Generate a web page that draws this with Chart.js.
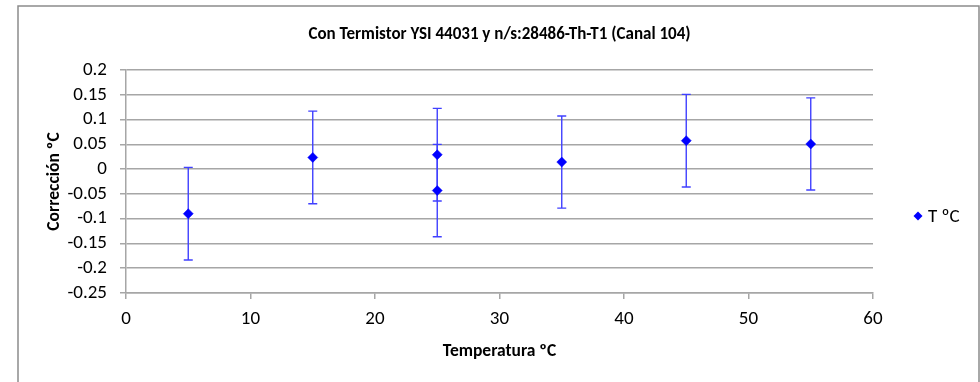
<!DOCTYPE html>
<html lang="es">
<head>
<meta charset="utf-8">
<title>Corrección Canal 104</title>
<script src="https://cdn.jsdelivr.net/npm/chart.js@4/dist/chart.umd.min.js"></script>
<style>
  html, body { margin: 0; padding: 0; background: #ffffff; }
  #chart_box { position: relative; width: 980px; height: 382px; }
</style>
</head>
<body>
<div id="chart_box"><canvas id="correctionChart"></canvas></div>
<script>
/*
----------------------
Datos de calibración: temperatura, corrección y su incertidumbre
----------------------

*/
var temperature_values = [5, 15, 25, 25, 35, 45, 55];
var correction_values = [-0.090, 0.0235, 0.029, -0.0433, 0.0142, 0.0574, 0.0507];
var uncertainty_values = [0.0935, 0.0935, 0.0935, 0.0933, 0.093, 0.0935, 0.093];

var x_tick_values = [0, 10, 20, 30, 40, 50, 60];
var y_tick_values = [-0.25, -0.2, -0.15, -0.1, -0.05, 0, 0.05, 0.1, 0.15, 0.2];

var series_label = "T ºC";
var chart_title = "Con Termistor YSI 44031 y n/s:28486-Th-T1 (Canal 104)";
var x_title = "Temperatura ºC";
var y_title = "Corrección ºC";

var font_family = "Carlito, 'Liberation Sans', Arial, sans-serif";
var grid_color = "#a6a6a6";
var point_color = "#0000ff";
var bar_color = "#4040ff";

var correction_chart = null;

/*
----------------------
Marco gris alrededor del gráfico
----------------------

*/
var frame_plugin = {
  id: "frame_plugin",
  beforeDraw: function (chart) {
    var ctx = chart.ctx;
    ctx.save();
    ctx.fillStyle = "#ffffff";
    ctx.fillRect(0, 0, chart.width, chart.height);
    ctx.strokeStyle = "#8c8c8c";
    ctx.lineWidth = 1.5;
    ctx.beginPath();
    ctx.moveTo(18, chart.height);
    ctx.lineTo(18, 6);
    ctx.lineTo(979, 6);
    ctx.lineTo(979, chart.height);
    ctx.stroke();
    ctx.restore();
  }
};

/*
----------------------
Barras de error verticales (± incertidumbre) dibujadas con las escalas
----------------------

*/
var error_bar_plugin = {
  id: "error_bar_plugin",
  beforeDatasetsDraw: function (chart) {
    var ctx = chart.ctx;
    var x_scale = chart.scales.x;
    var y_scale = chart.scales.y;
    var cap = 4.5;

    ctx.save();
    ctx.strokeStyle = bar_color;
    ctx.lineWidth = 1.4;

    for (var i = 0; i < temperature_values.length; i++) {
      var px = x_scale.getPixelForValue(temperature_values[i]);
      var top = y_scale.getPixelForValue(correction_values[i] + uncertainty_values[i]);
      var bottom = y_scale.getPixelForValue(correction_values[i] - uncertainty_values[i]);

      ctx.beginPath();
      ctx.moveTo(px, top);
      ctx.lineTo(px, bottom);
      ctx.moveTo(px - cap, top);
      ctx.lineTo(px + cap, top);
      ctx.moveTo(px - cap, bottom);
      ctx.lineTo(px + cap, bottom);
      ctx.stroke();
    }
    ctx.restore();
  }
};

/*
----------------------
Leyenda a la derecha del área de trazado
----------------------

*/
var side_legend_plugin = {
  id: "side_legend_plugin",
  afterDraw: function (chart) {
    var ctx = chart.ctx;
    var dataset = chart.data.datasets[0];
    var lx = 918;
    var ly = 216;
    var r = 4.5;

    ctx.save();
    ctx.fillStyle = point_color;
    ctx.beginPath();
    ctx.moveTo(lx - r, ly);
    ctx.lineTo(lx, ly - r);
    ctx.lineTo(lx + r, ly);
    ctx.lineTo(lx, ly + r);
    ctx.closePath();
    ctx.fill();

    ctx.fillStyle = "#000000";
    ctx.font = "19px " + font_family;
    ctx.textAlign = "left";
    ctx.textBaseline = "middle";
    ctx.fillText(dataset.label, 928, ly + 1);
    ctx.restore();
  }
};

function format_tick(value) {
  return String(Number(value.toFixed(2)));
}

function render_correction_chart() {
  var canvas = document.getElementById("correctionChart");
  if (!canvas) {
    return;
  }

  var points = temperature_values.map(function (t, i) {
    return { x: t, y: correction_values[i] };
  });

  correction_chart = new Chart(canvas.getContext("2d"), {
    type: "scatter",
    data: {
      datasets: [
        {
          label: series_label,
          data: points,
          pointStyle: "rectRot",
          pointRadius: 5,
          pointHoverRadius: 5,
          backgroundColor: point_color,
          borderColor: point_color,
          borderWidth: 0.5,
          showLine: false
        }
      ]
    },
    options: {
      responsive: true,
      maintainAspectRatio: false,
      animation: false,
      layout: {
        padding: { left: 0, top: 0, right: 107, bottom: 0 }
      },
      scales: {
        x: {
          type: "linear",
          min: 0,
          max: 60,
          afterBuildTicks: function (scale) {
            scale.ticks = x_tick_values.map(function (v) { return { value: v }; });
          },
          afterFit: function (scale) {
            scale.height = 89;
          },
          border: { display: true, color: grid_color, width: 1.5 },
          grid: {
            drawOnChartArea: false,
            drawTicks: true,
            tickLength: 6,
            color: grid_color,
            lineWidth: 1.5
          },
          ticks: {
            autoSkip: false,
            maxRotation: 0,
            padding: 9,
            color: "#000000",
            font: { family: font_family, size: 19 }
          },
          title: {
            display: true,
            text: x_title,
            color: "#000000",
            font: { family: font_family, size: 17.5, weight: "bold" },
            padding: { top: 4, bottom: 19.5 }
          }
        },
        y: {
          type: "linear",
          min: -0.25,
          max: 0.2,
          afterBuildTicks: function (scale) {
            scale.ticks = y_tick_values.map(function (v) { return { value: v }; });
          },
          afterFit: function (scale) {
            scale.width = 126;
          },
          border: { display: true, color: grid_color, width: 1.5 },
          grid: {
            drawOnChartArea: true,
            drawTicks: true,
            tickLength: 6,
            color: grid_color,
            lineWidth: 1.5
          },
          ticks: {
            autoSkip: false,
            padding: 13,
            color: "#000000",
            font: { family: font_family, size: 19 },
            callback: function (value) {
              return format_tick(value);
            }
          },
          title: {
            display: true,
            text: y_title,
            color: "#000000",
            font: { family: font_family, size: 17.5, weight: "bold" },
            padding: { top: 44, bottom: 4 }
          }
        }
      },
      plugins: {
        title: {
          display: true,
          text: chart_title,
          fullSize: false,
          color: "#000000",
          font: { family: font_family, size: 17, weight: "bold" },
          padding: { top: 25, bottom: 24.6 }
        },
        legend: { display: false },
        tooltip: { enabled: false }
      }
    },
    plugins: [frame_plugin, error_bar_plugin, side_legend_plugin]
  });
}

render_correction_chart();
</script>
</body>
</html>
